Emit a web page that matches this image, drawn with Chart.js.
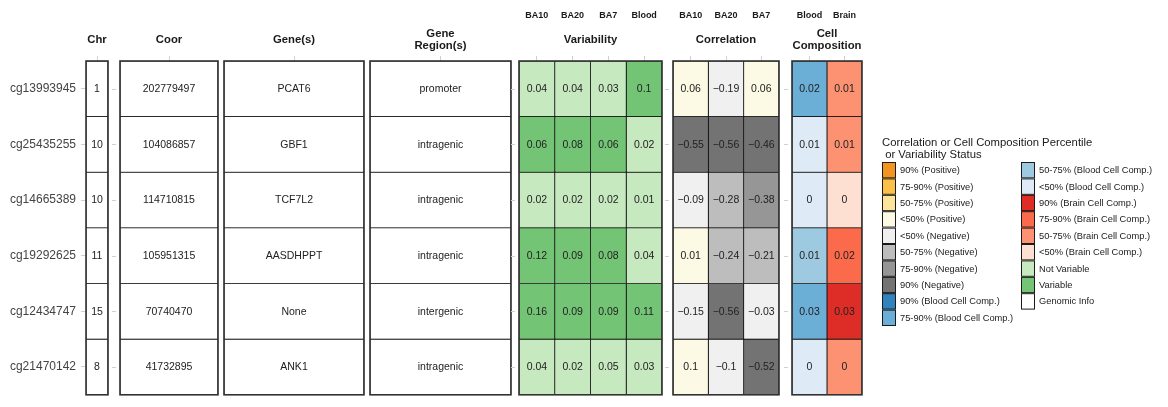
<!DOCTYPE html>
<html>
<head>
<meta charset="utf-8">
<script src="https://cdn.jsdelivr.net/npm/chart.js@4.4.1/dist/chart.umd.min.js"></script>
<style>
  html, body { margin: 0; padding: 0; background: #ffffff; }
  #wrap { width: 1168px; height: 407px; }
</style>
</head>
<body>
<div id="wrap"><canvas id="cpgChart" width="1168" height="407"></canvas></div>
<script>
// ---- CpG sites and their genomic annotation ----
const cpgIds = ['cg13993945', 'cg25435255', 'cg14665389', 'cg19292625', 'cg12434747', 'cg21470142'];
const chromosomes = ['1', '10', '10', '11', '15', '8'];
const coordinates = ['202779497', '104086857', '114710815', '105951315', '70740470', '41732895'];
const genes = ['PCAT6', 'GBF1', 'TCF7L2', 'AASDHPPT', 'None', 'ANK1'];
const geneRegions = ['promoter', 'intragenic', 'intragenic', 'intragenic', 'intergenic', 'intragenic'];

// ---- Variability (value and status per tissue) ----
const variabilityTissues = ['BA10', 'BA20', 'BA7', 'Blood'];
const variabilityBA10 = [0.04, 0.06, 0.02, 0.12, 0.16, 0.04];
const variabilityBA20 = [0.04, 0.08, 0.02, 0.09, 0.09, 0.02];
const variabilityBA7 = [0.03, 0.06, 0.02, 0.08, 0.09, 0.05];
const variabilityBlood = [0.1, 0.02, 0.01, 0.04, 0.11, 0.03];
const statusBA10 = ['Not Variable', 'Variable', 'Not Variable', 'Variable', 'Variable', 'Not Variable'];
const statusBA20 = ['Not Variable', 'Variable', 'Not Variable', 'Variable', 'Variable', 'Not Variable'];
const statusBA7 = ['Not Variable', 'Variable', 'Not Variable', 'Variable', 'Variable', 'Not Variable'];
const statusBlood = ['Variable', 'Not Variable', 'Not Variable', 'Not Variable', 'Variable', 'Not Variable'];

// ---- Blood-brain correlation (value and percentile per brain region) ----
const correlationRegions = ['BA10', 'BA20', 'BA7'];
const correlationBA10 = [0.06, -0.55, -0.09, 0.01, -0.15, 0.1];
const correlationBA20 = [-0.19, -0.56, -0.28, -0.24, -0.56, -0.1];
const correlationBA7 = [0.06, -0.46, -0.38, -0.21, -0.03, -0.52];
const corrPctBA10 = ['<50% (Positive)', '90% (Negative)', '<50% (Negative)', '<50% (Positive)', '<50% (Negative)', '<50% (Positive)'];
const corrPctBA20 = ['<50% (Negative)', '90% (Negative)', '50-75% (Negative)', '50-75% (Negative)', '90% (Negative)', '<50% (Negative)'];
const corrPctBA7 = ['<50% (Positive)', '90% (Negative)', '75-90% (Negative)', '50-75% (Negative)', '<50% (Negative)', '90% (Negative)'];

// ---- Cell composition (value and percentile) ----
const compositionTissues = ['Blood', 'Brain'];
const compositionBlood = [0.02, 0.01, 0, 0.01, 0.03, 0];
const compositionBrain = [0.01, 0.01, 0, 0.02, 0.03, 0];
const compPctBlood = ['75-90% (Blood Cell Comp.)', '<50% (Blood Cell Comp.)', '<50% (Blood Cell Comp.)', '50-75% (Blood Cell Comp.)', '75-90% (Blood Cell Comp.)', '<50% (Blood Cell Comp.)'];
const compPctBrain = ['50-75% (Brain Cell Comp.)', '50-75% (Brain Cell Comp.)', '<50% (Brain Cell Comp.)', '75-90% (Brain Cell Comp.)', '90% (Brain Cell Comp.)', '50-75% (Brain Cell Comp.)'];

// ---- Legend categories and fills ----
const legendTitle = ['Correlation or Cell Composition Percentile', ' or Variability Status'];
const legendCategories = [
  '90% (Positive)', '75-90% (Positive)', '50-75% (Positive)', '<50% (Positive)',
  '<50% (Negative)', '50-75% (Negative)', '75-90% (Negative)', '90% (Negative)',
  '90% (Blood Cell Comp.)', '75-90% (Blood Cell Comp.)', '50-75% (Blood Cell Comp.)', '<50% (Blood Cell Comp.)',
  '90% (Brain Cell Comp.)', '75-90% (Brain Cell Comp.)', '50-75% (Brain Cell Comp.)', '<50% (Brain Cell Comp.)',
  'Not Variable', 'Variable', 'Genomic Info'
];
const legendFills = [
  '#F39322', '#FBC047', '#FDE49B', '#FCF9E4',
  '#F0F0F0', '#BDBDBD', '#969696', '#737373',
  '#3182BD', '#6BAED6', '#9ECAE1', '#DEEBF7',
  '#DE2D26', '#FB6A4A', '#FC9272', '#FEE0D2',
  '#C7E9C0', '#74C476', '#FFFFFF'
];
const fillOf = cat => legendFills[legendCategories.indexOf(cat)];

// ---- Styling / layout ----
const FONT = "'Liberation Sans', Arial, Helvetica, sans-serif";
const fmt = v => String(v).replace('-', '\u2212');
const genomic = arr => arr.map(() => 'Genomic Info');

// Panel layout on the horizontal scale (units of the x axis)
const panels = [
  { title: ['Chr'], start: 0, width: 22,
    cols: [{ sub: '', text: chromosomes, cats: genomic(chromosomes) }] },
  { title: ['Coor'], start: 34, width: 98,
    cols: [{ sub: '', text: coordinates, cats: genomic(coordinates) }] },
  { title: ['Gene(s)'], start: 138, width: 140,
    cols: [{ sub: '', text: genes, cats: genomic(genes) }] },
  { title: ['Gene', 'Region(s)'], start: 284, width: 141,
    cols: [{ sub: '', text: geneRegions, cats: genomic(geneRegions) }] },
  { title: ['Variability'], start: 433, width: 143,
    cols: [
      { sub: variabilityTissues[0], text: variabilityBA10.map(fmt), cats: statusBA10 },
      { sub: variabilityTissues[1], text: variabilityBA20.map(fmt), cats: statusBA20 },
      { sub: variabilityTissues[2], text: variabilityBA7.map(fmt), cats: statusBA7 },
      { sub: variabilityTissues[3], text: variabilityBlood.map(fmt), cats: statusBlood }
    ] },
  { title: ['Correlation'], start: 587, width: 106,
    cols: [
      { sub: correlationRegions[0], text: correlationBA10.map(fmt), cats: corrPctBA10 },
      { sub: correlationRegions[1], text: correlationBA20.map(fmt), cats: corrPctBA20 },
      { sub: correlationRegions[2], text: correlationBA7.map(fmt), cats: corrPctBA7 }
    ] },
  { title: ['Cell', 'Composition'], start: 706, width: 70,
    cols: [
      { sub: compositionTissues[0], text: compositionBlood.map(fmt), cats: compPctBlood },
      { sub: compositionTissues[1], text: compositionBrain.map(fmt), cats: compPctBrain }
    ] }
];

// Flatten panels into columns with their extents on the x scale
const columns = [];
panels.forEach(p => {
  const w = p.width / p.cols.length;
  p.cols.forEach((c, i) => {
    columns.push(Object.assign({}, c, { x0: p.start + i * w, x1: p.start + (i + 1) * w }));
  });
});
const xMax = panels[panels.length - 1].start + panels[panels.length - 1].width;

const datasets = columns.map((c, i) => ({
  label: c.sub || ('col' + i),
  data: cpgIds.map(() => [c.x0, c.x1]),
  cellText: c.text,
  backgroundColor: c.cats.map(fillOf),
  borderColor: '#111111',
  borderWidth: 0.8,
  borderSkipped: false,
  barPercentage: 1,
  categoryPercentage: 1,
  grouped: false
}));

// Cell labels, panel frames, strip titles, per-panel ticks and legend
const tablePlugin = {
  id: 'tableDecor',
  afterDatasetsDraw(chart) {
    const { ctx, chartArea, scales } = chart;
    const xs = scales.x, ys = scales.y;

    // values inside cells
    ctx.save();
    ctx.font = '10.5px ' + FONT;
    ctx.fillStyle = '#222222';
    ctx.textAlign = 'center';
    ctx.textBaseline = 'middle';
    chart.data.datasets.forEach((ds, di) => {
      chart.getDatasetMeta(di).data.forEach((el, ri) => {
        ctx.fillText(ds.cellText[ri], (el.x + el.base) / 2, el.y + 0.5);
      });
    });
    ctx.restore();

    // panel frames
    ctx.save();
    ctx.strokeStyle = '#333333';
    ctx.lineWidth = 1.6;
    panels.forEach(p => {
      const a = xs.getPixelForValue(p.start), b = xs.getPixelForValue(p.start + p.width);
      ctx.strokeRect(a, chartArea.top, b - a, chartArea.bottom - chartArea.top);
    });
    ctx.restore();

    // small y ticks repeated on the left of the separated panels
    ctx.save();
    ctx.strokeStyle = '#d0d0d0';
    ctx.lineWidth = 1;
    panels.forEach((p, pi) => {
      if (pi === 0) return;
      const prevEnd = panels[pi - 1].start + panels[pi - 1].width;
      if (p.start - prevEnd < 8) return;
      const a = xs.getPixelForValue(p.start);
      cpgIds.forEach((id, ri) => {
        const y = Math.round(ys.getPixelForValue(ri)) + 0.5;
        ctx.beginPath();
        ctx.moveTo(a - 8, y);
        ctx.lineTo(a - 4, y);
        ctx.stroke();
      });
    });
    ctx.restore();

    // strip titles
    ctx.save();
    ctx.font = 'bold 11.3px ' + FONT;
    ctx.fillStyle = '#1a1a1a';
    ctx.textAlign = 'center';
    ctx.textBaseline = 'middle';
    panels.forEach(p => {
      const cx = xs.getPixelForValue(p.start + p.width / 2);
      if (p.title.length === 1) {
        ctx.fillText(p.title[0], cx, 40);
      } else {
        ctx.fillText(p.title[0], cx, 33.5);
        ctx.fillText(p.title[1], cx, 46);
      }
    });
    ctx.restore();

    // legend
    ctx.save();
    ctx.fillStyle = '#1a1a1a';
    ctx.textAlign = 'left';
    ctx.textBaseline = 'middle';
    ctx.font = '11.3px ' + FONT;
    ctx.fillText(legendTitle[0], 882, 143);
    ctx.fillText(legendTitle[1], 882, 155);
    const keyH = 16.4, keyW = 14, top = 162;
    const colX = [882, 1021];
    const perCol = 10;
    ctx.font = '9.3px ' + FONT;
    legendCategories.forEach((cat, i) => {
      const col = Math.floor(i / perCol), row = i % perCol;
      const x = colX[col], y = top + row * keyH;
      ctx.fillStyle = legendFills[i];
      ctx.fillRect(x, y, keyW, keyH);
      ctx.strokeStyle = '#1a1a1a';
      ctx.lineWidth = 1;
      ctx.strokeRect(x + 0.5, y + 0.5, keyW - 1, keyH - 1);
      ctx.fillStyle = '#1a1a1a';
      ctx.fillText(cat, x + keyW + 4, y + keyH / 2 + 0.5);
    });
    ctx.restore();
  }
};

new Chart(document.getElementById('cpgChart'), {
  type: 'bar',
  data: { labels: cpgIds, datasets },
  options: {
    indexAxis: 'y',
    responsive: false,
    animation: false,
    devicePixelRatio: 1,
    layout: { padding: { left: 0, right: 1168 - 862, top: 0, bottom: 3 } },
    plugins: { legend: { display: false }, tooltip: { enabled: false } },
    scales: {
      x: {
        type: 'linear',
        position: 'top',
        min: 0,
        max: xMax,
        afterBuildTicks: s => { s.ticks = columns.map(c => ({ value: (c.x0 + c.x1) / 2 })); },
        afterFit: s => { s.height = 61; },
        ticks: {
          autoSkip: false,
          maxRotation: 0,
          padding: 35,
          color: '#1a1a1a',
          font: { family: FONT, size: 9, weight: 'bold' },
          callback: (v, i) => columns[i] ? columns[i].sub : ''
        },
        grid: { drawOnChartArea: false, drawTicks: true, tickLength: 5, color: '#d0d0d0' },
        border: { display: false }
      },
      y: {
        type: 'category',
        position: 'left',
        afterFit: s => { s.width = 86; },
        ticks: { color: '#444444', padding: 5, font: { family: FONT, size: 12 } },
        grid: { drawOnChartArea: false, drawTicks: true, tickLength: 5, color: '#d0d0d0', offset: false },
        border: { display: false }
      }
    }
  },
  plugins: [tablePlugin]
});
</script>
</body>
</html>
